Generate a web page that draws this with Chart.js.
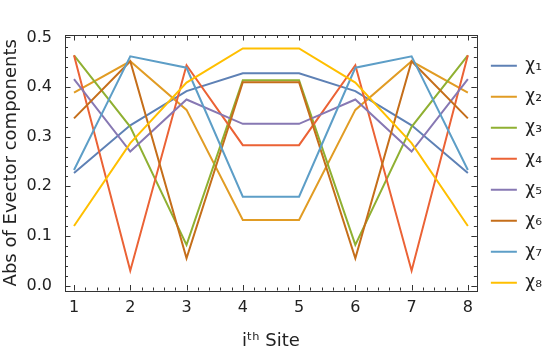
<!DOCTYPE html>
<html>
<head>
<meta charset="utf-8">
<script src="https://cdn.jsdelivr.net/npm/chart.js@4.4.1/dist/chart.umd.min.js"></script>
<style>
  html, body { margin: 0; padding: 0; background: #fff; }
  #wrap { width: 556px; height: 354px; }
</style>
</head>
<body>
<div id="wrap"><canvas id="evec"></canvas></div>
<script>
// sites on the chain
const sites = [1, 2, 3, 4, 5, 6, 7, 8];

// |components| of each eigenvector
const chi1 = [0.227, 0.323, 0.392, 0.428, 0.428, 0.392, 0.323, 0.227];
const chi2 = [0.389, 0.452, 0.354, 0.132, 0.132, 0.354, 0.452, 0.389];
const chi3 = [0.464, 0.320, 0.082, 0.414, 0.414, 0.082, 0.320, 0.464];
const chi4 = [0.464, 0.030, 0.444, 0.283, 0.283, 0.444, 0.030, 0.464];
const chi5 = [0.416, 0.270, 0.375, 0.326, 0.326, 0.375, 0.270, 0.416];
const chi6 = [0.337, 0.452, 0.055, 0.410, 0.410, 0.055, 0.452, 0.337];
const chi7 = [0.233, 0.462, 0.439, 0.179, 0.179, 0.439, 0.462, 0.233];
const chi8 = [0.120, 0.287, 0.409, 0.478, 0.478, 0.409, 0.287, 0.120];

const seriesLabels = ['χ₁', 'χ₂', 'χ₃', 'χ₄', 'χ₅', 'χ₆', 'χ₇', 'χ₈'];
const xTicks = [1, 2, 3, 4, 5, 6, 7, 8];
const yTicks = [0, 0.1, 0.2, 0.3, 0.4, 0.5];

const colors = ['#5e81b5', '#e19c24', '#8fb032', '#eb6235', '#8778b3', '#c56e1a', '#5d9ec7', '#ffbf00'];
const FONT = 'DejaVu Sans';
const FRAME = '#333';

const allSeries = [chi1, chi2, chi3, chi4, chi5, chi6, chi7, chi8];

const datasets = allSeries.map((vals, i) => ({
    label: seriesLabels[i],
    data: vals.map((v, j) => ({ x: sites[j], y: v })),
    borderColor: colors[i],
    backgroundColor: colors[i],
    borderWidth: 2,
    pointRadius: 0,
    tension: 0,
    order: allSeries.length - 1 - i   // last series on top, like matplotlib
}));

// inward ticks on all four sides plus the frame
const frameTicks = {
    id: 'frameTicks',
    afterDatasetsDraw(chart) {
        const { ctx, chartArea: a, scales: { x, y } } = chart;
        ctx.save();
        ctx.strokeStyle = FRAME;
        ctx.lineWidth = 1;

        const tick = (px, len, vertical) => {
            ctx.beginPath();
            if (vertical) {
                ctx.moveTo(px, a.bottom); ctx.lineTo(px, a.bottom - len);
                ctx.moveTo(px, a.top); ctx.lineTo(px, a.top + len);
            } else {
                ctx.moveTo(a.left, px); ctx.lineTo(a.left + len, px);
                ctx.moveTo(a.right, px); ctx.lineTo(a.right - len, px);
            }
            ctx.stroke();
        };

        for (let k = 0; k <= 50; k++) {
            const v = Math.round(k * 2) / 10 + 0.8;
            if (v < x.min || v > x.max) continue;
            const major = Math.abs(v - Math.round(v)) < 1e-6;
            tick(Math.round(x.getPixelForValue(v)) + 0.5, major ? 5.5 : 3, true);
        }
        for (let k = 0; k <= 26; k++) {
            const v = k * 0.02;
            if (v < y.min || v > y.max) continue;
            const major = k % 5 === 0;
            tick(Math.round(y.getPixelForValue(v)) + 0.5, major ? 5.5 : 3, false);
        }

        ctx.strokeRect(Math.round(a.left) + 0.5, Math.round(a.top) + 0.5,
                       Math.round(a.right - a.left), Math.round(a.bottom - a.top));
        ctx.restore();
    }
};

new Chart(document.getElementById('evec'), {
    type: 'line',
    data: { datasets },
    options: {
        responsive: true,
        maintainAspectRatio: false,
        animation: false,
        layout: { padding: { top: 35, left: 0, right: 4, bottom: 0 } },
        plugins: {
            tooltip: { enabled: false },
            legend: {
                position: 'right',
                align: 'start',
                title: { display: true, text: '', font: { size: 1 }, padding: { top: 0, bottom: 7 } },
                labels: {
                    boxWidth: 26,
                    boxHeight: 2,
                    padding: 14,
                    color: '#222',
                    font: { family: FONT, size: 17 },
                    sort: (a, b) => a.datasetIndex - b.datasetIndex,
                    generateLabels(chart) {
                        return Chart.defaults.plugins.legend.labels.generateLabels(chart)
                            .map(item => ({ ...item, lineWidth: 0 }));
                    }
                }
            }
        },
        scales: {
            x: {
                type: 'linear',
                min: 0.84,
                max: 8.16,
                grid: { display: false },
                border: { display: false },
                afterBuildTicks(scale) { scale.ticks = xTicks.map(v => ({ value: v })); },
                afterFit(scale) { scale.height = 63.5; },
                ticks: {
                    color: '#222',
                    padding: 0,
                    font: { family: FONT, size: 16 },
                    maxRotation: 0,
                    callback: v => String(v)
                },
                title: {
                    display: true,
                    text: 'iᵗʰ Site',
                    color: '#222',
                    font: { family: FONT, size: 18 },
                    padding: { top: 0, bottom: 2 }
                }
            },
            y: {
                min: -0.01,
                max: 0.505,
                grid: { display: false },
                border: { display: false },
                afterBuildTicks(scale) { scale.ticks = yTicks.map(v => ({ value: v })); },
                afterFit(scale) { scale.width = 65; },
                ticks: {
                    color: '#222',
                    padding: 5,
                    font: { family: FONT, size: 16 },
                    callback: v => Number(v).toFixed(1)
                },
                title: {
                    display: true,
                    text: 'Abs of Evector components',
                    color: '#222',
                    font: { family: FONT, size: 18 },
                    padding: { top: 1, bottom: 0 }
                }
            }
        }
    },
    plugins: [frameTicks]
});
</script>
</body>
</html>
